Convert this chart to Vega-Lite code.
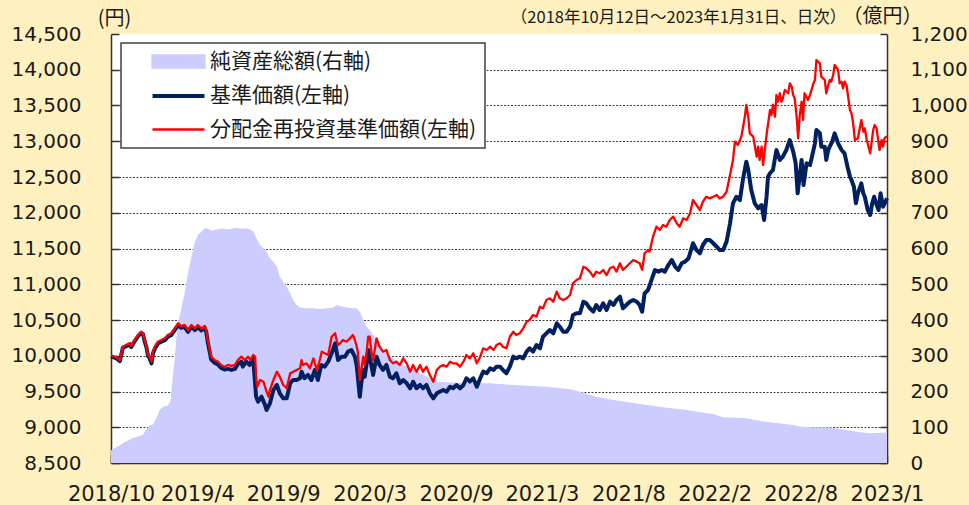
{
  "$schema": "https://vega.github.io/schema/vega-lite/v6.json",
  "width": 776,
  "height": 429,
  "autosize": {"type": "none"},
  "padding": {"left": 111, "top": 34, "right": 82, "bottom": 42},
  "background": "#FFF0C0",
  "view": {"fill": "#FFFFFF", "stroke": null},
  "config": {
    "font": "DejaVu Sans",
    "axis": {
      "labelFont": "DejaVu Sans",
      "labelColor": "#1a1a1a",
      "domainColor": "#333333",
      "domainWidth": 1.5,
      "tickColor": "#333333",
      "tickWidth": 1.5,
      "titleFont": "Noto Sans CJK JP",
      "titleFontWeight": "normal",
      "titleColor": "#1a1a1a"
    }
  },
  "datasets": {
    "assets": [
      {"date": "2018-10-12", "assets": 36}, {"date": "2018-10-26", "assets": 46}, {"date": "2018-11-08", "assets": 58},
      {"date": "2018-11-22", "assets": 68}, {"date": "2018-12-06", "assets": 74}, {"date": "2018-12-16", "assets": 80},
      {"date": "2018-12-23", "assets": 95}, {"date": "2018-12-29", "assets": 104}, {"date": "2019-01-05", "assets": 108},
      {"date": "2019-01-12", "assets": 125}, {"date": "2019-01-19", "assets": 148}, {"date": "2019-01-26", "assets": 158},
      {"date": "2019-02-04", "assets": 160}, {"date": "2019-02-10", "assets": 175}, {"date": "2019-02-14", "assets": 241},
      {"date": "2019-02-18", "assets": 288}, {"date": "2019-02-21", "assets": 344}, {"date": "2019-02-25", "assets": 391},
      {"date": "2019-03-03", "assets": 428}, {"date": "2019-03-10", "assets": 475}, {"date": "2019-03-17", "assets": 531},
      {"date": "2019-03-24", "assets": 577}, {"date": "2019-03-31", "assets": 619}, {"date": "2019-04-06", "assets": 638},
      {"date": "2019-04-13", "assets": 647}, {"date": "2019-04-20", "assets": 656}, {"date": "2019-04-26", "assets": 656},
      {"date": "2019-05-03", "assets": 650}, {"date": "2019-05-10", "assets": 652}, {"date": "2019-05-23", "assets": 656},
      {"date": "2019-06-06", "assets": 654}, {"date": "2019-06-20", "assets": 657}, {"date": "2019-07-03", "assets": 656},
      {"date": "2019-07-17", "assets": 655}, {"date": "2019-07-27", "assets": 648}, {"date": "2019-08-03", "assets": 628},
      {"date": "2019-08-10", "assets": 610}, {"date": "2019-08-17", "assets": 601}, {"date": "2019-08-23", "assets": 591},
      {"date": "2019-08-30", "assets": 573}, {"date": "2019-09-06", "assets": 563}, {"date": "2019-09-13", "assets": 549},
      {"date": "2019-09-19", "assets": 521}, {"date": "2019-09-26", "assets": 507}, {"date": "2019-10-03", "assets": 493},
      {"date": "2019-10-10", "assets": 475}, {"date": "2019-10-16", "assets": 456}, {"date": "2019-10-23", "assets": 442},
      {"date": "2019-10-30", "assets": 435}, {"date": "2019-11-12", "assets": 433}, {"date": "2019-11-26", "assets": 433},
      {"date": "2019-12-09", "assets": 431}, {"date": "2019-12-23", "assets": 433}, {"date": "2020-01-05", "assets": 434},
      {"date": "2020-01-12", "assets": 442}, {"date": "2020-01-19", "assets": 439}, {"date": "2020-02-01", "assets": 435},
      {"date": "2020-02-14", "assets": 433}, {"date": "2020-02-21", "assets": 433}, {"date": "2020-02-28", "assets": 423},
      {"date": "2020-03-06", "assets": 400}, {"date": "2020-03-13", "assets": 381}, {"date": "2020-03-19", "assets": 372},
      {"date": "2020-04-02", "assets": 344}, {"date": "2020-04-15", "assets": 316}, {"date": "2020-04-29", "assets": 299},
      {"date": "2020-05-19", "assets": 280}, {"date": "2020-06-09", "assets": 266}, {"date": "2020-06-29", "assets": 252},
      {"date": "2020-07-19", "assets": 238}, {"date": "2020-08-02", "assets": 227}, {"date": "2020-08-29", "assets": 225},
      {"date": "2020-10-08", "assets": 224}, {"date": "2020-11-18", "assets": 223}, {"date": "2021-01-03", "assets": 218},
      {"date": "2021-03-12", "assets": 213}, {"date": "2021-04-29", "assets": 206}, {"date": "2021-05-19", "assets": 199},
      {"date": "2021-06-21", "assets": 185}, {"date": "2021-07-26", "assets": 176}, {"date": "2021-09-17", "assets": 165},
      {"date": "2021-11-03", "assets": 156}, {"date": "2021-12-21", "assets": 148}, {"date": "2022-01-30", "assets": 139},
      {"date": "2022-02-13", "assets": 137}, {"date": "2022-03-05", "assets": 128}, {"date": "2022-04-21", "assets": 125},
      {"date": "2022-05-25", "assets": 116}, {"date": "2022-06-28", "assets": 111}, {"date": "2022-07-25", "assets": 106},
      {"date": "2022-08-07", "assets": 102}, {"date": "2022-09-03", "assets": 100}, {"date": "2022-10-07", "assets": 99},
      {"date": "2022-11-10", "assets": 92}, {"date": "2022-12-07", "assets": 86}, {"date": "2022-12-28", "assets": 83},
      {"date": "2023-01-31", "assets": 85}
    ],
    "nav": [
      {"date": "2018-10-12", "nav": 9990}, {"date": "2018-10-23", "nav": 9963}, {"date": "2018-10-30", "nav": 9925},
      {"date": "2018-11-05", "nav": 10112}, {"date": "2018-11-12", "nav": 10135}, {"date": "2018-11-19", "nav": 10159},
      {"date": "2018-11-22", "nav": 10121}, {"date": "2018-11-29", "nav": 10205}, {"date": "2018-12-06", "nav": 10275},
      {"date": "2018-12-12", "nav": 10321}, {"date": "2018-12-16", "nav": 10299}, {"date": "2018-12-19", "nav": 10205},
      {"date": "2018-12-23", "nav": 10112}, {"date": "2018-12-26", "nav": 9995}, {"date": "2018-12-29", "nav": 9972},
      {"date": "2019-01-02", "nav": 9892}, {"date": "2019-01-05", "nav": 10032}, {"date": "2019-01-09", "nav": 10102},
      {"date": "2019-01-15", "nav": 10172}, {"date": "2019-01-22", "nav": 10195}, {"date": "2019-01-29", "nav": 10219},
      {"date": "2019-02-04", "nav": 10265}, {"date": "2019-02-11", "nav": 10289}, {"date": "2019-02-18", "nav": 10359},
      {"date": "2019-02-25", "nav": 10429}, {"date": "2019-03-03", "nav": 10391}, {"date": "2019-03-10", "nav": 10405},
      {"date": "2019-03-17", "nav": 10335}, {"date": "2019-03-24", "nav": 10405}, {"date": "2019-03-31", "nav": 10359},
      {"date": "2019-04-06", "nav": 10400}, {"date": "2019-04-13", "nav": 10354}, {"date": "2019-04-20", "nav": 10386},
      {"date": "2019-04-23", "nav": 10330}, {"date": "2019-04-26", "nav": 10190}, {"date": "2019-04-30", "nav": 10050},
      {"date": "2019-05-03", "nav": 9947}, {"date": "2019-05-10", "nav": 9900}, {"date": "2019-05-17", "nav": 9877},
      {"date": "2019-05-23", "nav": 9831}, {"date": "2019-05-30", "nav": 9807}, {"date": "2019-06-06", "nav": 9816},
      {"date": "2019-06-13", "nav": 9802}, {"date": "2019-06-20", "nav": 9816}, {"date": "2019-06-26", "nav": 9885},
      {"date": "2019-07-03", "nav": 9917}, {"date": "2019-07-06", "nav": 9847}, {"date": "2019-07-13", "nav": 9917},
      {"date": "2019-07-20", "nav": 9871}, {"date": "2019-07-27", "nav": 9964}, {"date": "2019-08-02", "nav": 9427},
      {"date": "2019-08-06", "nav": 9357}, {"date": "2019-08-13", "nav": 9427}, {"date": "2019-08-20", "nav": 9311},
      {"date": "2019-08-23", "nav": 9241}, {"date": "2019-08-30", "nav": 9335}, {"date": "2019-09-06", "nav": 9521},
      {"date": "2019-09-13", "nav": 9591}, {"date": "2019-09-19", "nav": 9475}, {"date": "2019-09-26", "nav": 9405},
      {"date": "2019-10-03", "nav": 9405}, {"date": "2019-10-10", "nav": 9615}, {"date": "2019-10-16", "nav": 9661},
      {"date": "2019-10-23", "nav": 9661}, {"date": "2019-10-30", "nav": 9685}, {"date": "2019-11-02", "nav": 9777},
      {"date": "2019-11-08", "nav": 9685}, {"date": "2019-11-15", "nav": 9731}, {"date": "2019-11-22", "nav": 9661},
      {"date": "2019-11-29", "nav": 9801}, {"date": "2019-12-05", "nav": 9661}, {"date": "2019-12-12", "nav": 9871},
      {"date": "2019-12-19", "nav": 9847}, {"date": "2019-12-26", "nav": 9917}, {"date": "2020-01-02", "nav": 10034},
      {"date": "2020-01-09", "nav": 10174}, {"date": "2020-01-15", "nav": 9940}, {"date": "2020-01-22", "nav": 9987},
      {"date": "2020-01-29", "nav": 9987}, {"date": "2020-02-04", "nav": 10057}, {"date": "2020-02-11", "nav": 10080},
      {"date": "2020-02-18", "nav": 9987}, {"date": "2020-02-22", "nav": 9847}, {"date": "2020-02-28", "nav": 9427},
      {"date": "2020-03-02", "nav": 9615}, {"date": "2020-03-06", "nav": 9801}, {"date": "2020-03-09", "nav": 9707},
      {"date": "2020-03-13", "nav": 9894}, {"date": "2020-03-16", "nav": 10080}, {"date": "2020-03-23", "nav": 9847},
      {"date": "2020-03-26", "nav": 9731}, {"date": "2020-04-02", "nav": 9987}, {"date": "2020-04-08", "nav": 9871},
      {"date": "2020-04-15", "nav": 9801}, {"date": "2020-04-22", "nav": 9871}, {"date": "2020-04-29", "nav": 9707},
      {"date": "2020-05-05", "nav": 9685}, {"date": "2020-05-12", "nav": 9755}, {"date": "2020-05-19", "nav": 9615},
      {"date": "2020-05-26", "nav": 9661}, {"date": "2020-06-02", "nav": 9615}, {"date": "2020-06-09", "nav": 9545},
      {"date": "2020-06-15", "nav": 9637}, {"date": "2020-06-22", "nav": 9545}, {"date": "2020-06-29", "nav": 9591},
      {"date": "2020-07-05", "nav": 9545}, {"date": "2020-07-12", "nav": 9591}, {"date": "2020-07-19", "nav": 9475},
      {"date": "2020-07-26", "nav": 9405}, {"date": "2020-08-02", "nav": 9475}, {"date": "2020-08-08", "nav": 9497},
      {"date": "2020-08-15", "nav": 9521}, {"date": "2020-08-22", "nav": 9497}, {"date": "2020-08-29", "nav": 9567},
      {"date": "2020-09-04", "nav": 9545}, {"date": "2020-09-11", "nav": 9591}, {"date": "2020-09-18", "nav": 9545},
      {"date": "2020-09-25", "nav": 9591}, {"date": "2020-10-01", "nav": 9685}, {"date": "2020-10-08", "nav": 9637},
      {"date": "2020-10-15", "nav": 9685}, {"date": "2020-10-22", "nav": 9567}, {"date": "2020-10-29", "nav": 9685},
      {"date": "2020-11-04", "nav": 9777}, {"date": "2020-11-11", "nav": 9755}, {"date": "2020-11-18", "nav": 9825},
      {"date": "2020-11-25", "nav": 9801}, {"date": "2020-12-01", "nav": 9847}, {"date": "2020-12-08", "nav": 9847},
      {"date": "2020-12-14", "nav": 9801}, {"date": "2020-12-21", "nav": 9755}, {"date": "2020-12-28", "nav": 9847},
      {"date": "2021-01-04", "nav": 9987}, {"date": "2021-01-10", "nav": 9964}, {"date": "2021-01-17", "nav": 9987},
      {"date": "2021-01-24", "nav": 9964}, {"date": "2021-01-31", "nav": 10057}, {"date": "2021-02-06", "nav": 10104},
      {"date": "2021-02-13", "nav": 10057}, {"date": "2021-02-20", "nav": 10150}, {"date": "2021-02-27", "nav": 10104},
      {"date": "2021-03-05", "nav": 10266}, {"date": "2021-03-12", "nav": 10314}, {"date": "2021-03-19", "nav": 10360},
      {"date": "2021-03-26", "nav": 10314}, {"date": "2021-04-02", "nav": 10454}, {"date": "2021-04-08", "nav": 10406},
      {"date": "2021-04-15", "nav": 10336}, {"date": "2021-04-22", "nav": 10336}, {"date": "2021-04-29", "nav": 10406},
      {"date": "2021-05-05", "nav": 10570}, {"date": "2021-05-12", "nav": 10594}, {"date": "2021-05-19", "nav": 10594},
      {"date": "2021-05-26", "nav": 10756}, {"date": "2021-06-01", "nav": 10733}, {"date": "2021-06-08", "nav": 10664},
      {"date": "2021-06-15", "nav": 10616}, {"date": "2021-06-21", "nav": 10710}, {"date": "2021-06-28", "nav": 10640},
      {"date": "2021-07-05", "nav": 10733}, {"date": "2021-07-12", "nav": 10640}, {"date": "2021-07-19", "nav": 10756},
      {"date": "2021-07-26", "nav": 10710}, {"date": "2021-08-01", "nav": 10780}, {"date": "2021-08-08", "nav": 10826},
      {"date": "2021-08-14", "nav": 10664}, {"date": "2021-08-21", "nav": 10710}, {"date": "2021-08-28", "nav": 10756},
      {"date": "2021-09-04", "nav": 10780}, {"date": "2021-09-11", "nav": 10756}, {"date": "2021-09-17", "nav": 10710},
      {"date": "2021-09-22", "nav": 10616}, {"date": "2021-09-27", "nav": 10873}, {"date": "2021-10-04", "nav": 10920},
      {"date": "2021-10-11", "nav": 11060}, {"date": "2021-10-18", "nav": 11199}, {"date": "2021-10-25", "nav": 11176},
      {"date": "2021-11-01", "nav": 11199}, {"date": "2021-11-07", "nav": 11176}, {"date": "2021-11-14", "nav": 11269},
      {"date": "2021-11-21", "nav": 11339}, {"date": "2021-11-28", "nav": 11245}, {"date": "2021-12-04", "nav": 11199},
      {"date": "2021-12-11", "nav": 11293}, {"date": "2021-12-18", "nav": 11316}, {"date": "2021-12-25", "nav": 11363},
      {"date": "2021-12-31", "nav": 11503}, {"date": "2022-01-03", "nav": 11573}, {"date": "2022-01-10", "nav": 11479},
      {"date": "2022-01-17", "nav": 11433}, {"date": "2022-01-23", "nav": 11549}, {"date": "2022-01-30", "nav": 11619},
      {"date": "2022-02-06", "nav": 11619}, {"date": "2022-02-13", "nav": 11573}, {"date": "2022-02-20", "nav": 11525},
      {"date": "2022-02-26", "nav": 11479}, {"date": "2022-03-05", "nav": 11479}, {"date": "2022-03-12", "nav": 11596},
      {"date": "2022-03-19", "nav": 11852}, {"date": "2022-03-25", "nav": 12132}, {"date": "2022-04-01", "nav": 12224},
      {"date": "2022-04-08", "nav": 12178}, {"date": "2022-04-14", "nav": 12458}, {"date": "2022-04-21", "nav": 12714},
      {"date": "2022-04-25", "nav": 12598}, {"date": "2022-05-01", "nav": 12318}, {"date": "2022-05-08", "nav": 12132},
      {"date": "2022-05-15", "nav": 12062}, {"date": "2022-05-22", "nav": 12108}, {"date": "2022-05-27", "nav": 11899},
      {"date": "2022-06-01", "nav": 12224}, {"date": "2022-06-04", "nav": 12504}, {"date": "2022-06-08", "nav": 12552},
      {"date": "2022-06-14", "nav": 12598}, {"date": "2022-06-21", "nav": 12878}, {"date": "2022-06-28", "nav": 12738},
      {"date": "2022-07-04", "nav": 12784}, {"date": "2022-07-11", "nav": 12878}, {"date": "2022-07-18", "nav": 13017},
      {"date": "2022-07-22", "nav": 12924}, {"date": "2022-07-25", "nav": 12854}, {"date": "2022-07-30", "nav": 12692},
      {"date": "2022-08-03", "nav": 12272}, {"date": "2022-08-07", "nav": 12504}, {"date": "2022-08-11", "nav": 12738},
      {"date": "2022-08-15", "nav": 12388}, {"date": "2022-08-21", "nav": 12692}, {"date": "2022-08-28", "nav": 12668},
      {"date": "2022-09-01", "nav": 12784}, {"date": "2022-09-07", "nav": 12971}, {"date": "2022-09-10", "nav": 13157},
      {"date": "2022-09-17", "nav": 13111}, {"date": "2022-09-20", "nav": 12924}, {"date": "2022-09-27", "nav": 12924},
      {"date": "2022-09-30", "nav": 12738}, {"date": "2022-10-04", "nav": 12878}, {"date": "2022-10-07", "nav": 12924},
      {"date": "2022-10-12", "nav": 12994}, {"date": "2022-10-17", "nav": 13111}, {"date": "2022-10-24", "nav": 12971},
      {"date": "2022-10-31", "nav": 12878}, {"date": "2022-11-06", "nav": 12831}, {"date": "2022-11-12", "nav": 12644},
      {"date": "2022-11-17", "nav": 12504}, {"date": "2022-11-20", "nav": 12458}, {"date": "2022-11-25", "nav": 12364},
      {"date": "2022-11-29", "nav": 12132}, {"date": "2022-12-03", "nav": 12272}, {"date": "2022-12-10", "nav": 12412},
      {"date": "2022-12-14", "nav": 12272}, {"date": "2022-12-17", "nav": 12224}, {"date": "2022-12-23", "nav": 12038},
      {"date": "2022-12-28", "nav": 11968}, {"date": "2023-01-01", "nav": 12132}, {"date": "2023-01-05", "nav": 12224},
      {"date": "2023-01-10", "nav": 12108}, {"date": "2023-01-14", "nav": 12038}, {"date": "2023-01-18", "nav": 12272},
      {"date": "2023-01-23", "nav": 12085}, {"date": "2023-01-28", "nav": 12155}, {"date": "2023-01-31", "nav": 12202}
    ],
    "reinv": [
      {"date": "2018-10-12", "reinv": 10000}, {"date": "2018-10-23", "reinv": 9978}, {"date": "2018-10-30", "reinv": 9940},
      {"date": "2018-11-05", "reinv": 10127}, {"date": "2018-11-12", "reinv": 10150}, {"date": "2018-11-19", "reinv": 10174},
      {"date": "2018-11-22", "reinv": 10136}, {"date": "2018-11-29", "reinv": 10220}, {"date": "2018-12-06", "reinv": 10290},
      {"date": "2018-12-12", "reinv": 10336}, {"date": "2018-12-16", "reinv": 10314}, {"date": "2018-12-19", "reinv": 10220},
      {"date": "2018-12-23", "reinv": 10127}, {"date": "2018-12-26", "reinv": 10010}, {"date": "2018-12-29", "reinv": 9987},
      {"date": "2019-01-02", "reinv": 9917}, {"date": "2019-01-05", "reinv": 10057}, {"date": "2019-01-09", "reinv": 10127},
      {"date": "2019-01-15", "reinv": 10197}, {"date": "2019-01-22", "reinv": 10220}, {"date": "2019-01-29", "reinv": 10244},
      {"date": "2019-02-04", "reinv": 10290}, {"date": "2019-02-11", "reinv": 10314}, {"date": "2019-02-18", "reinv": 10384},
      {"date": "2019-02-25", "reinv": 10454}, {"date": "2019-03-03", "reinv": 10416}, {"date": "2019-03-10", "reinv": 10430},
      {"date": "2019-03-17", "reinv": 10360}, {"date": "2019-03-24", "reinv": 10430}, {"date": "2019-03-31", "reinv": 10384},
      {"date": "2019-04-06", "reinv": 10430}, {"date": "2019-04-13", "reinv": 10384}, {"date": "2019-04-20", "reinv": 10416},
      {"date": "2019-04-23", "reinv": 10360}, {"date": "2019-04-26", "reinv": 10220}, {"date": "2019-04-30", "reinv": 10080},
      {"date": "2019-05-03", "reinv": 9987}, {"date": "2019-05-10", "reinv": 9940}, {"date": "2019-05-17", "reinv": 9917},
      {"date": "2019-05-23", "reinv": 9871}, {"date": "2019-05-30", "reinv": 9847}, {"date": "2019-06-06", "reinv": 9871},
      {"date": "2019-06-13", "reinv": 9857}, {"date": "2019-06-20", "reinv": 9871}, {"date": "2019-06-26", "reinv": 9940},
      {"date": "2019-07-03", "reinv": 9987}, {"date": "2019-07-10", "reinv": 9940}, {"date": "2019-07-17", "reinv": 9987},
      {"date": "2019-07-21", "reinv": 9940}, {"date": "2019-07-27", "reinv": 10010}, {"date": "2019-07-31", "reinv": 9987},
      {"date": "2019-08-02", "reinv": 9707}, {"date": "2019-08-04", "reinv": 9567}, {"date": "2019-08-10", "reinv": 9661},
      {"date": "2019-08-17", "reinv": 9637}, {"date": "2019-08-22", "reinv": 9521}, {"date": "2019-08-27", "reinv": 9427},
      {"date": "2019-08-30", "reinv": 9521}, {"date": "2019-09-06", "reinv": 9661}, {"date": "2019-09-13", "reinv": 9777},
      {"date": "2019-09-19", "reinv": 9707}, {"date": "2019-09-26", "reinv": 9591}, {"date": "2019-10-03", "reinv": 9545},
      {"date": "2019-10-10", "reinv": 9755}, {"date": "2019-10-16", "reinv": 9777}, {"date": "2019-10-23", "reinv": 9801},
      {"date": "2019-10-30", "reinv": 9825}, {"date": "2019-11-02", "reinv": 9940}, {"date": "2019-11-05", "reinv": 9871},
      {"date": "2019-11-12", "reinv": 9894}, {"date": "2019-11-19", "reinv": 9825}, {"date": "2019-11-26", "reinv": 9964},
      {"date": "2019-12-03", "reinv": 9801}, {"date": "2019-12-09", "reinv": 9940}, {"date": "2019-12-13", "reinv": 10057},
      {"date": "2019-12-19", "reinv": 10034}, {"date": "2019-12-26", "reinv": 10010}, {"date": "2020-01-02", "reinv": 10266},
      {"date": "2020-01-09", "reinv": 10314}, {"date": "2020-01-12", "reinv": 10220}, {"date": "2020-01-15", "reinv": 10150},
      {"date": "2020-01-19", "reinv": 10174}, {"date": "2020-01-25", "reinv": 10220}, {"date": "2020-02-01", "reinv": 10197},
      {"date": "2020-02-08", "reinv": 10244}, {"date": "2020-02-14", "reinv": 10290}, {"date": "2020-02-18", "reinv": 10220},
      {"date": "2020-02-21", "reinv": 10150}, {"date": "2020-02-24", "reinv": 10057}, {"date": "2020-02-28", "reinv": 9661},
      {"date": "2020-03-02", "reinv": 9801}, {"date": "2020-03-06", "reinv": 9987}, {"date": "2020-03-09", "reinv": 9871},
      {"date": "2020-03-13", "reinv": 10057}, {"date": "2020-03-16", "reinv": 10266}, {"date": "2020-03-19", "reinv": 10266},
      {"date": "2020-03-23", "reinv": 10034}, {"date": "2020-03-26", "reinv": 9940}, {"date": "2020-04-02", "reinv": 10244},
      {"date": "2020-04-08", "reinv": 10127}, {"date": "2020-04-15", "reinv": 10057}, {"date": "2020-04-22", "reinv": 10080},
      {"date": "2020-04-29", "reinv": 9940}, {"date": "2020-05-05", "reinv": 9894}, {"date": "2020-05-12", "reinv": 9917},
      {"date": "2020-05-19", "reinv": 9871}, {"date": "2020-05-26", "reinv": 9964}, {"date": "2020-06-02", "reinv": 9894},
      {"date": "2020-06-09", "reinv": 9777}, {"date": "2020-06-15", "reinv": 9871}, {"date": "2020-06-22", "reinv": 9777},
      {"date": "2020-06-29", "reinv": 9871}, {"date": "2020-07-05", "reinv": 9777}, {"date": "2020-07-12", "reinv": 9847},
      {"date": "2020-07-19", "reinv": 9731}, {"date": "2020-07-26", "reinv": 9637}, {"date": "2020-08-02", "reinv": 9801},
      {"date": "2020-08-08", "reinv": 9847}, {"date": "2020-08-15", "reinv": 9871}, {"date": "2020-08-22", "reinv": 9847},
      {"date": "2020-08-29", "reinv": 9917}, {"date": "2020-09-04", "reinv": 9894}, {"date": "2020-09-11", "reinv": 9894},
      {"date": "2020-09-18", "reinv": 9847}, {"date": "2020-09-25", "reinv": 9917}, {"date": "2020-10-01", "reinv": 10010},
      {"date": "2020-10-08", "reinv": 9964}, {"date": "2020-10-15", "reinv": 10034}, {"date": "2020-10-22", "reinv": 9894},
      {"date": "2020-10-29", "reinv": 9987}, {"date": "2020-11-04", "reinv": 10104}, {"date": "2020-11-11", "reinv": 10080},
      {"date": "2020-11-18", "reinv": 10127}, {"date": "2020-11-25", "reinv": 10080}, {"date": "2020-12-01", "reinv": 10150},
      {"date": "2020-12-08", "reinv": 10174}, {"date": "2020-12-14", "reinv": 10127}, {"date": "2020-12-21", "reinv": 10104},
      {"date": "2020-12-28", "reinv": 10266}, {"date": "2021-01-04", "reinv": 10336}, {"date": "2021-01-10", "reinv": 10290},
      {"date": "2021-01-17", "reinv": 10314}, {"date": "2021-01-24", "reinv": 10384}, {"date": "2021-01-31", "reinv": 10476},
      {"date": "2021-02-06", "reinv": 10500}, {"date": "2021-02-13", "reinv": 10570}, {"date": "2021-02-20", "reinv": 10546},
      {"date": "2021-02-27", "reinv": 10686}, {"date": "2021-03-05", "reinv": 10663}, {"date": "2021-03-12", "reinv": 10780},
      {"date": "2021-03-19", "reinv": 10803}, {"date": "2021-03-26", "reinv": 10756}, {"date": "2021-04-02", "reinv": 10896},
      {"date": "2021-04-08", "reinv": 10803}, {"date": "2021-04-15", "reinv": 10780}, {"date": "2021-04-22", "reinv": 10803},
      {"date": "2021-04-29", "reinv": 10850}, {"date": "2021-05-05", "reinv": 11013}, {"date": "2021-05-12", "reinv": 11060},
      {"date": "2021-05-19", "reinv": 11083}, {"date": "2021-05-26", "reinv": 11245}, {"date": "2021-06-01", "reinv": 11223},
      {"date": "2021-06-08", "reinv": 11176}, {"date": "2021-06-15", "reinv": 11106}, {"date": "2021-06-21", "reinv": 11176},
      {"date": "2021-06-28", "reinv": 11153}, {"date": "2021-07-05", "reinv": 11200}, {"date": "2021-07-12", "reinv": 11129},
      {"date": "2021-07-19", "reinv": 11223}, {"date": "2021-07-26", "reinv": 11245}, {"date": "2021-08-01", "reinv": 11176},
      {"date": "2021-08-08", "reinv": 11293}, {"date": "2021-08-14", "reinv": 11200}, {"date": "2021-08-21", "reinv": 11245},
      {"date": "2021-08-28", "reinv": 11293}, {"date": "2021-09-04", "reinv": 11339}, {"date": "2021-09-11", "reinv": 11316},
      {"date": "2021-09-17", "reinv": 11293}, {"date": "2021-09-22", "reinv": 11200}, {"date": "2021-09-27", "reinv": 11433},
      {"date": "2021-10-04", "reinv": 11479}, {"date": "2021-10-07", "reinv": 11456}, {"date": "2021-10-14", "reinv": 11665},
      {"date": "2021-10-21", "reinv": 11805}, {"date": "2021-10-28", "reinv": 11759}, {"date": "2021-11-03", "reinv": 11829},
      {"date": "2021-11-10", "reinv": 11805}, {"date": "2021-11-17", "reinv": 11899}, {"date": "2021-11-24", "reinv": 11945},
      {"date": "2021-12-01", "reinv": 11852}, {"date": "2021-12-07", "reinv": 11805}, {"date": "2021-12-14", "reinv": 11922},
      {"date": "2021-12-21", "reinv": 11899}, {"date": "2021-12-28", "reinv": 11992}, {"date": "2022-01-03", "reinv": 12178},
      {"date": "2022-01-10", "reinv": 12108}, {"date": "2022-01-17", "reinv": 12038}, {"date": "2022-01-23", "reinv": 12155},
      {"date": "2022-01-30", "reinv": 12224}, {"date": "2022-02-06", "reinv": 12201}, {"date": "2022-02-13", "reinv": 12224},
      {"date": "2022-02-20", "reinv": 12248}, {"date": "2022-02-26", "reinv": 12201}, {"date": "2022-03-05", "reinv": 12224},
      {"date": "2022-03-12", "reinv": 12294}, {"date": "2022-03-19", "reinv": 12528}, {"date": "2022-03-25", "reinv": 12738},
      {"date": "2022-03-29", "reinv": 12994}, {"date": "2022-04-04", "reinv": 12948}, {"date": "2022-04-11", "reinv": 13064},
      {"date": "2022-04-18", "reinv": 13343}, {"date": "2022-04-21", "reinv": 13507}, {"date": "2022-04-25", "reinv": 13343},
      {"date": "2022-04-28", "reinv": 13111}, {"date": "2022-05-05", "reinv": 13064}, {"date": "2022-05-12", "reinv": 12784},
      {"date": "2022-05-15", "reinv": 12924}, {"date": "2022-05-18", "reinv": 12738}, {"date": "2022-05-22", "reinv": 12924},
      {"date": "2022-05-25", "reinv": 12668}, {"date": "2022-06-01", "reinv": 13087}, {"date": "2022-06-08", "reinv": 13437},
      {"date": "2022-06-11", "reinv": 13367}, {"date": "2022-06-14", "reinv": 13507}, {"date": "2022-06-18", "reinv": 13343},
      {"date": "2022-06-21", "reinv": 13647}, {"date": "2022-06-24", "reinv": 13553}, {"date": "2022-06-28", "reinv": 13671},
      {"date": "2022-07-01", "reinv": 13553}, {"date": "2022-07-04", "reinv": 13601}, {"date": "2022-07-08", "reinv": 13717},
      {"date": "2022-07-15", "reinv": 13671}, {"date": "2022-07-18", "reinv": 13810}, {"date": "2022-07-22", "reinv": 13763},
      {"date": "2022-07-25", "reinv": 13647}, {"date": "2022-07-28", "reinv": 13601}, {"date": "2022-08-01", "reinv": 13343},
      {"date": "2022-08-04", "reinv": 13041}, {"date": "2022-08-07", "reinv": 13343}, {"date": "2022-08-11", "reinv": 13553},
      {"date": "2022-08-14", "reinv": 13297}, {"date": "2022-08-17", "reinv": 13671}, {"date": "2022-08-24", "reinv": 13577},
      {"date": "2022-08-28", "reinv": 13647}, {"date": "2022-09-04", "reinv": 13810}, {"date": "2022-09-07", "reinv": 13857},
      {"date": "2022-09-10", "reinv": 14136}, {"date": "2022-09-17", "reinv": 14090}, {"date": "2022-09-20", "reinv": 13903},
      {"date": "2022-09-27", "reinv": 13857}, {"date": "2022-09-30", "reinv": 13671}, {"date": "2022-10-04", "reinv": 13787},
      {"date": "2022-10-07", "reinv": 13857}, {"date": "2022-10-10", "reinv": 13833}, {"date": "2022-10-14", "reinv": 13927},
      {"date": "2022-10-17", "reinv": 14066}, {"date": "2022-10-24", "reinv": 13997}, {"date": "2022-10-27", "reinv": 13810},
      {"date": "2022-10-31", "reinv": 13833}, {"date": "2022-11-03", "reinv": 13741}, {"date": "2022-11-06", "reinv": 13833},
      {"date": "2022-11-10", "reinv": 13787}, {"date": "2022-11-17", "reinv": 13437}, {"date": "2022-11-20", "reinv": 13391},
      {"date": "2022-11-23", "reinv": 13273}, {"date": "2022-11-27", "reinv": 13017}, {"date": "2022-12-03", "reinv": 13041},
      {"date": "2022-12-10", "reinv": 13297}, {"date": "2022-12-14", "reinv": 13134}, {"date": "2022-12-17", "reinv": 13181},
      {"date": "2022-12-21", "reinv": 13017}, {"date": "2022-12-28", "reinv": 12831}, {"date": "2022-12-31", "reinv": 12994},
      {"date": "2023-01-03", "reinv": 13157}, {"date": "2023-01-06", "reinv": 13227}, {"date": "2023-01-10", "reinv": 13181},
      {"date": "2023-01-13", "reinv": 13017}, {"date": "2023-01-16", "reinv": 12878}, {"date": "2023-01-20", "reinv": 13017},
      {"date": "2023-01-23", "reinv": 12924}, {"date": "2023-01-26", "reinv": 13041}, {"date": "2023-01-31", "reinv": 13073}
    ]
  },
  "layer": [
    {
      "data": {"name": "assets"},
      "mark": {"type": "area", "opacity": 1, "interpolate": "linear"},
      "encoding": {
        "x": {
          "field": "date", "type": "temporal",
          "scale": {"domain": [{"year": 2018, "month": 10, "date": 12, "utc": true}, {"year": 2023, "month": 1, "date": 31, "utc": true}]},
          "axis": {
            "orient": "bottom",
            "values": [
              {"year": 2018, "month": 10, "date": 12, "utc": true},
              {"year": 2019, "month": 4, "date": 5, "utc": true},
              {"year": 2019, "month": 9, "date": 26, "utc": true},
              {"year": 2020, "month": 3, "date": 19, "utc": true},
              {"year": 2020, "month": 9, "date": 10, "utc": true},
              {"year": 2021, "month": 3, "date": 3, "utc": true},
              {"year": 2021, "month": 8, "date": 25, "utc": true},
              {"year": 2022, "month": 2, "date": 16, "utc": true},
              {"year": 2022, "month": 8, "date": 9, "utc": true},
              {"year": 2023, "month": 1, "date": 31, "utc": true}
            ],
            "labelExpr": "utcFormat(datum.value, '%Y/%-m')",
            "labelFontSize": 21,
            "labelFlush": false,
            "labelOverlap": false,
            "tickSize": -8,
            "labelPadding": 28,
            "grid": false,
            "title": null
          }
        },
        "y": {
          "field": "assets", "type": "quantitative",
          "scale": {"domain": [0, 1200], "nice": false},
          "axis": {
            "orient": "right",
            "values": [0, 100, 200, 300, 400, 500, 600, 700, 800, 900, 1000, 1100, 1200],
            "format": ",d",
            "labelFontSize": 20,
            "labelAlign": "left",
            "tickSize": -7,
            "labelPadding": 30,
            "grid": true,
            "gridColor": "#404040",
            "gridDash": [2, 1.5],
            "gridWidth": 1.2,
            "gridOpacity": {"condition": {"test": "datum.value >= 1200", "value": 0}, "value": 1},
            "title": "（億円）",
            "titleAngle": 0,
            "titleFontSize": 20,
            "titleAlign": "center",
            "titleBaseline": "middle",
            "titleX": -5,
            "titleY": -18
          }
        },
        "color": {
          "datum": "純資産総額(右軸)",
          "scale": {
            "domain": ["純資産総額(右軸)", "基準価額(左軸)", "分配金再投資基準価額(左軸)"],
            "range": ["#CCCCFF", "#002060", "#FF0000"]
          },
          "legend": {
            "orient": "none",
            "legendX": 10,
            "legendY": 9,
            "title": null,
            "direction": "vertical",
            "labelFont": "Noto Sans CJK JP",
            "labelFontSize": 21,
            "labelColor": "#1a1a1a",
            "labelLimit": 600,
            "symbolSize": 400,
            "symbolOffset": 39,
            "labelOffset": 21,
            "rowPadding": 11.5,
            "padding": 8,
            "fillColor": "#FFFFFF",
            "strokeColor": "#404040",
            "encoding": {
              "symbols": {
                "shape": {"value": {"expr": "datum.value === '純資産総額(右軸)' ? 'M-2.6,-0.6H2.6V0.6H-2.6Z' : 'M-2.6,0H2.6'"}},
                "fill": {"value": {"expr": "datum.value === '純資産総額(右軸)' ? '#CCCCFF' : 'transparent'"}},
                "stroke": {"value": {"expr": "datum.value === '純資産総額(右軸)' ? 'transparent' : (datum.value === '基準価額(左軸)' ? '#002060' : '#FF0000')"}},
                "strokeWidth": {"value": {"expr": "datum.value === '基準価額(左軸)' ? 4 : 2.3"}},
                "opacity": {"value": 1},
                "fillOpacity": {"value": 1},
                "strokeOpacity": {"value": 1}
              },
              "legend": {"strokeWidth": {"value": 1.5}}
            }
          }
        }
      }
    },
    {
      "data": {"name": "nav"},
      "mark": {"type": "line", "strokeWidth": 4, "strokeJoin": "round"},
      "encoding": {
        "x": {
          "field": "date", "type": "temporal",
          "axis": {
            "orient": "top",
            "labels": false,
            "ticks": false,
            "domain": false,
            "grid": false,
            "title": "（2018年10月12日～2023年1月31日、日次）",
            "titleFontSize": 16.5,
            "titleAngle": 0,
            "titleAlign": "center",
            "titleBaseline": "middle",
            "titleX": 567,
            "titleY": -17
          }
        },
        "y": {
          "field": "nav", "type": "quantitative",
          "scale": {"domain": [8500, 14500], "nice": false, "zero": false},
          "axis": {
            "orient": "left",
            "values": [8500, 9000, 9500, 10000, 10500, 11000, 11500, 12000, 12500, 13000, 13500, 14000, 14500],
            "format": ",d",
            "labelFontSize": 20,
            "tickSize": -8,
            "labelPadding": 38,
            "grid": false,
            "title": "(円)",
            "titleAngle": 0,
            "titleFontSize": 20,
            "titleAlign": "center",
            "titleBaseline": "middle",
            "titleX": 3,
            "titleY": -16
          }
        },
        "color": {"datum": "基準価額(左軸)"}
      }
    },
    {
      "data": {"name": "reinv"},
      "mark": {"type": "line", "strokeWidth": 2.3, "strokeJoin": "round"},
      "encoding": {
        "x": {"field": "date", "type": "temporal", "axis": null},
        "y": {
          "field": "reinv", "type": "quantitative",
          "scale": {"domain": [8500, 14500], "nice": false, "zero": false},
          "axis": null
        },
        "color": {"datum": "分配金再投資基準価額(左軸)"}
      }
    }
  ],
  "resolve": {"scale": {"y": "independent"}, "axis": {"x": "independent"}}
}
